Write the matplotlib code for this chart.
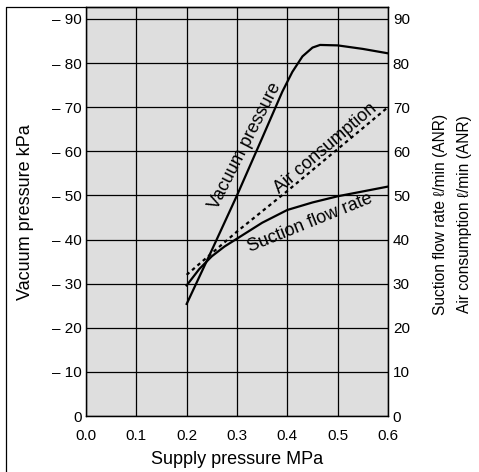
import matplotlib
matplotlib.use("Agg")
import matplotlib.pyplot as plt
from matplotlib.lines import Line2D

plt.rcParams['font.family'] = ['Liberation Sans', 'DejaVu Sans']

# supply pressure (MPa)
vac_x = [0.2, 0.25, 0.3, 0.35, 0.39, 0.41, 0.43, 0.45, 0.465, 0.5, 0.55, 0.6]
vac_y = [25.4, 37.6, 50.0, 63.0, 73.5, 78.0, 81.5, 83.5, 84.1, 84.0, 83.2, 82.2]

suction_x = [0.2, 0.225, 0.25, 0.275, 0.3, 0.35, 0.4, 0.45, 0.5, 0.55, 0.6]
suction_y = [29.6, 33.3, 36.2, 38.4, 40.2, 43.8, 46.7, 48.4, 49.8, 50.9, 52.0]

air_x = [0.2, 0.3, 0.4, 0.5, 0.6]
air_y = [32.0, 41.8, 51.0, 60.5, 70.0]

xticks = [0.0, 0.1, 0.2, 0.3, 0.4, 0.5, 0.6]
yticks = [0, 10, 20, 30, 40, 50, 60, 70, 80, 90]
left_labels = ['0'] + ['\u2013 %d' % v for v in yticks[1:]]
right_labels = [str(v) for v in yticks]

ytop = 92.7

fig = plt.figure(figsize=(4.79, 4.72), dpi=100)
ax = fig.add_axes([86 / 479, 1 - 416 / 472, 302 / 479, 409 / 472])
ax.set_facecolor('#dedede')

ax.set_xticks(xticks)
ax.set_xticklabels(['%.1f' % v for v in xticks], fontsize=11)
ax.set_yticks(yticks)
ax.set_yticklabels(left_labels, fontsize=11)
ax.set_xlim(0, 0.6)
ax.set_ylim(0, ytop)
ax.tick_params(axis='both', length=0)
ax.tick_params(axis='x', pad=9.5)
ax.tick_params(axis='y', pad=3)
ax.grid(True, color='black', linewidth=0.9)
ax.set_axisbelow(True)
for s in ax.spines.values():
    s.set_linewidth(0.9)

ax2 = ax.twinx()
ax2.set_yticks(yticks)
ax2.set_yticklabels(right_labels, fontsize=11)
ax2.set_ylim(0, ytop)
ax2.tick_params(axis='y', length=0, pad=3.5)
for s in ax2.spines.values():
    s.set_linewidth(0.9)

ax.plot(vac_x, vac_y, color='black', linewidth=1.6)
ax.plot(suction_x, suction_y, color='black', linewidth=1.6)
ax.plot(air_x, air_y, color='black', linewidth=1.6, linestyle=(0, (1.6, 1.6)))

ax.text(0.316, 61.3, 'Vacuum pressure', fontsize=13, rotation=63,
        ha='center', va='center', rotation_mode='anchor')
ax.text(0.4765, 60.7, 'Air consumption', fontsize=13, rotation=40.6,
        ha='center', va='center', rotation_mode='anchor')
ax.text(0.4453, 43.7, 'Suction flow rate', fontsize=13, rotation=22,
        ha='center', va='center', rotation_mode='anchor')

fig.text(237 / 479, 1 - 459 / 472, 'Supply pressure MPa', fontsize=13,
         ha='center', va='center')
fig.text(26 / 479, 1 - 212 / 472, 'Vacuum pressure kPa', fontsize=13,
         rotation=90, ha='center', va='center')
fig.text(440 / 479, 1 - 214 / 472, 'Suction flow rate \u2113/min (ANR)', fontsize=11.2,
         rotation=90, ha='center', va='center')
fig.text(465 / 479, 1 - 214 / 472, 'Air consumption \u2113/min (ANR)', fontsize=11.2,
         rotation=90, ha='center', va='center')

# outer frame (left and top edges)
fig.add_artist(Line2D([6 / 479, 6 / 479, 388 / 479], [0, 1 - 7 / 472, 1 - 7 / 472],
                      color='black', linewidth=0.9, transform=fig.transFigure))

fig.savefig('out.png', dpi=100)
